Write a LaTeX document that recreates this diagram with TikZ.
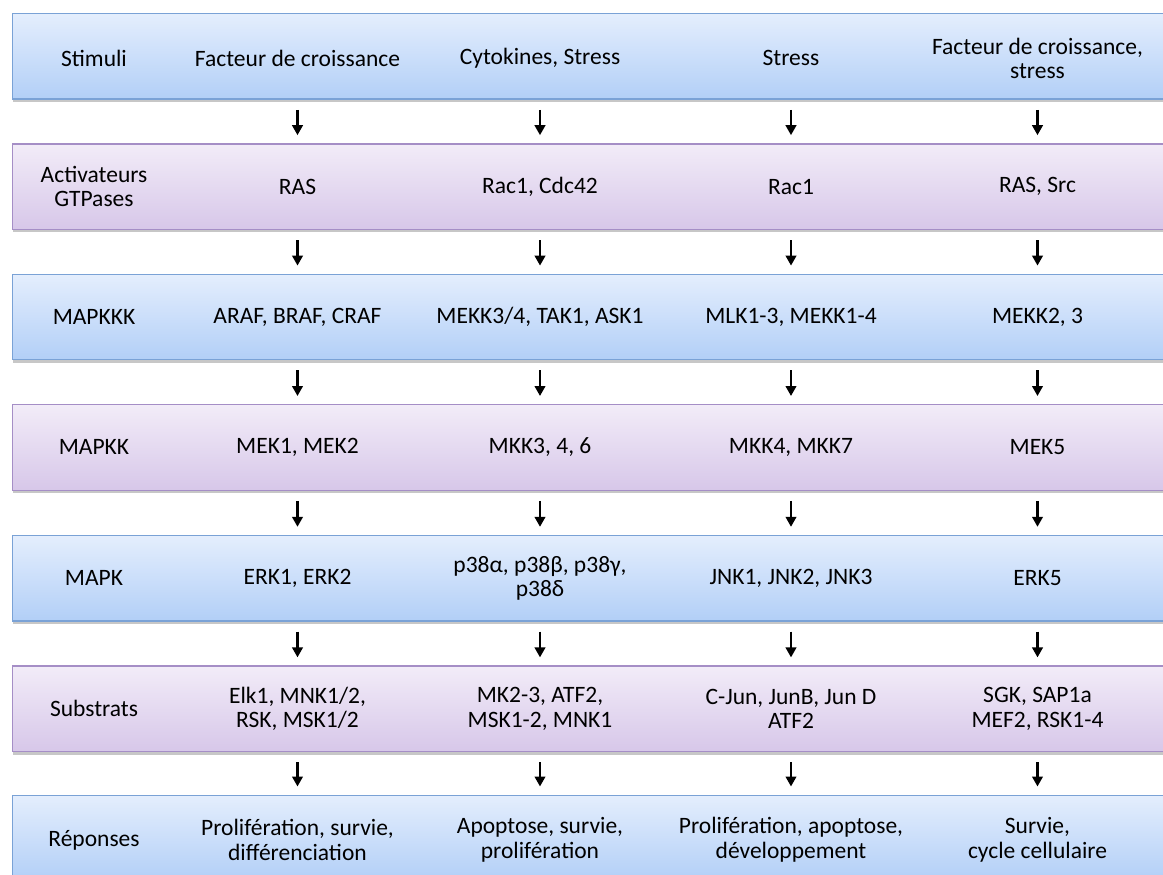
\documentclass[tikz,border=0pt]{standalone}
\usepackage{fontspec}
\setmainfont{Carlito}
\usetikzlibrary{shadows,arrows.meta}
\definecolor{bluetop}{HTML}{E4EEFD}
\definecolor{bluebot}{HTML}{B2CFF7}
\definecolor{blueline}{HTML}{7AA2D6}
\definecolor{purtop}{HTML}{F2ECF8}
\definecolor{purbot}{HTML}{D7C7E9}
\definecolor{purline}{HTML}{A58EC6}
\tikzset{
  rowbox/.style={anchor=north west, minimum width=1175pt, minimum height=85.5pt,
    line width=1.3pt, inner sep=0pt,
    drop shadow={shadow xshift=0pt, shadow yshift=-3pt, fill=black, opacity=0.22}},
  bluebox/.style={rowbox, draw=blueline, top color=bluetop, bottom color=bluebot},
  purbox/.style={rowbox, draw=purline, top color=purtop, bottom color=purbot},
  txt/.style={align=center, inner sep=0pt, font=\fontsize{23.5}{24.5}\selectfont, text=black},
  arr/.style={line width=2.4pt, -{Triangle[length=10pt,width=10.5pt]}}
}
\begin{document}
\begin{tikzpicture}[x=1pt,y=-1pt]
\useasboundingbox (0,0) rectangle (1163,875);
\fill[white] (0,0) rectangle (1163,875);
% rows
\node[bluebox] (r1) at (12,13) {};
\node[purbox]  (r2) at (12,143.2) {};
\node[bluebox] (r3) at (12,273.6) {};
\node[purbox]  (r4) at (12,404) {};
\node[bluebox] (r5) at (12,534.8) {};
\node[purbox]  (r6) at (12,665.4) {};
\node[bluebox] (r7) at (12,794.5) {};
% columns
\coordinate (c0) at (94,0);
\coordinate (c1) at (297.5,0);
\coordinate (c2) at (540,0);
\coordinate (c3) at (791,0);
\coordinate (c4) at (1037.5,0);
% texts
\node[txt] (t10) at ([yshift=-2pt]r1.center -| c0) {Stimuli};
\node[txt] (t11) at ([yshift=-2pt]r1.center -| c1) {Facteur de croissance};
\node[txt] (t12) at ([yshift=-2pt]r1.center -| c2) {Cytokines, Stress};
\node[txt] (t13) at ([yshift=-2pt]r1.center -| c3) {Stress};
\node[txt] (t14) at ([yshift=-2pt]r1.center -| c4) {Facteur de croissance,\\stress};
\node[txt] (t20) at (r2.center -| c0) {Activateurs\\GTPases};
\node[txt] (t21) at (r2.center -| c1) {RAS};
\node[txt] (t22) at (r2.center -| c2) {Rac1, Cdc42};
\node[txt] (t23) at (r2.center -| c3) {Rac1};
\node[txt] (t24) at (r2.center -| c4) {RAS, Src};
\node[txt] (t30) at (r3.center -| c0) {MAPKKK};
\node[txt] (t31) at (r3.center -| c1) {ARAF, BRAF, CRAF};
\node[txt] (t32) at (r3.center -| c2) {MEKK3/4, TAK1, ASK1};
\node[txt] (t33) at (r3.center -| c3) {MLK1-3, MEKK1-4};
\node[txt] (t34) at (r3.center -| c4) {MEKK2, 3};
\node[txt] (t40) at (r4.center -| c0) {MAPKK};
\node[txt] (t41) at (r4.center -| c1) {MEK1, MEK2};
\node[txt] (t42) at (r4.center -| c2) {MKK3, 4, 6};
\node[txt] (t43) at (r4.center -| c3) {MKK4, MKK7};
\node[txt] (t44) at (r4.center -| c4) {MEK5};
\node[txt] (t50) at (r5.center -| c0) {MAPK};
\node[txt] (t51) at (r5.center -| c1) {ERK1, ERK2};
\node[txt] (t52) at (r5.center -| c2) {p38α, p38β, p38γ,\\p38δ};
\node[txt] (t53) at (r5.center -| c3) {JNK1, JNK2, JNK3};
\node[txt] (t54) at (r5.center -| c4) {ERK5};
\node[txt] (t60) at (r6.center -| c0) {Substrats};
\node[txt] (t61) at (r6.center -| c1) {Elk1, MNK1/2,\\RSK, MSK1/2};
\node[txt] (t62) at (r6.center -| c2) {MK2-3, ATF2,\\MSK1-2, MNK1};
\node[txt] (t63) at (r6.center -| c3) {C-Jun, JunB, Jun D\\ATF2};
\node[txt] (t64) at (r6.center -| c4) {SGK, SAP1a\\MEF2, RSK1-4};
\node[txt] (t70) at ([yshift=-2pt]r7.center -| c0) {Réponses};
\node[txt] (t71) at ([yshift=-2pt]r7.center -| c1) {Prolifération, survie,\\différenciation};
\node[txt] (t72) at ([yshift=-2pt]r7.center -| c2) {Apoptose, survie,\\prolifération};
\node[txt] (t73) at ([yshift=-2pt]r7.center -| c3) {Prolifération, apoptose,\\développement};
\node[txt] (t74) at ([yshift=-2pt]r7.center -| c4) {Survie,\\cycle cellulaire};
% arrows
\foreach \a/\b in {r1/r2,r2/r3,r3/r4,r4/r5,r5/r6,r6/r7}{
  \foreach \c in {c1,c2,c3,c4}{
    \draw[arr] ([yshift=-10pt]\a.south -| \c) -- ([yshift=8pt]\b.north -| \c);
  }
}
\end{tikzpicture}
\end{document}
